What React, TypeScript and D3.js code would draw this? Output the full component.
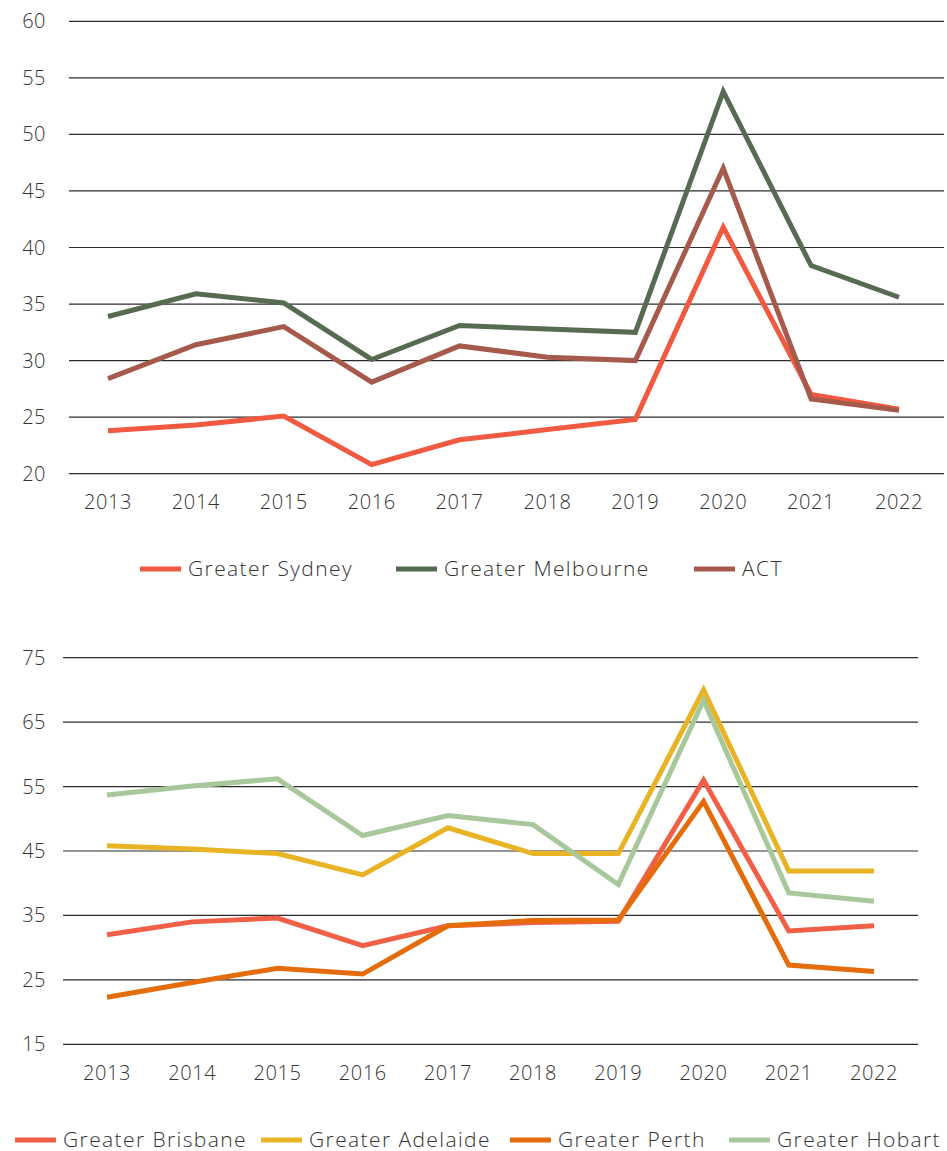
import React from "react";
import * as d3 from "d3";

// years on the x axis (shared by both charts)
const years = ["2013", "2014", "2015", "2016", "2017", "2018", "2019", "2020", "2021", "2022"];

// top chart
const sydney = [23.8, 24.3, 25.1, 20.8, 23.0, 23.9, 24.8, 41.8, 27.0, 25.7];
const melbourne = [33.9, 35.9, 35.1, 30.1, 33.1, 32.8, 32.5, 53.8, 38.4, 35.6];
const act = [28.4, 31.4, 33.0, 28.1, 31.3, 30.3, 30.0, 47.0, 26.6, 25.6];
const topTicks = [20, 25, 30, 35, 40, 45, 50, 55, 60];

// bottom chart
const brisbane = [32.0, 34.0, 34.6, 30.3, 33.4, 33.9, 34.1, 56.0, 32.6, 33.4];
const adelaide = [45.8, 45.3, 44.6, 41.3, 48.6, 44.6, 44.6, 70.0, 41.9, 41.9];
const perth = [22.3, 24.6, 26.8, 25.9, 33.4, 34.2, 34.3, 52.7, 27.3, 26.3];
const hobart = [53.7, 55.1, 56.2, 47.4, 50.5, 49.1, 39.8, 68.4, 38.5, 37.2];
const bottomTicks = [15, 25, 35, 45, 55, 65, 75];

const topSeries = [
  { name: "Greater Sydney", values: sydney, color: "#f15a40" },
  { name: "Greater Melbourne", values: melbourne, color: "#566b52" },
  { name: "ACT", values: act, color: "#a65a4c" },
];

const bottomSeries = [
  { name: "Greater Brisbane", values: brisbane, color: "#f15f47" },
  { name: "Greater Adelaide", values: adelaide, color: "#e8b425" },
  { name: "Greater Perth", values: perth, color: "#e46c0a" },
  { name: "Greater Hobart", values: hobart, color: "#a8c89c" },
];

const FONT = "'Open Sans', Lato, sans-serif";
const TEXT = "#333";

type Series = { name: string; values: number[]; color: string };

function LineChart(props: {
  series: Series[];
  ticks: number[];
  gridLeft: number;
  gridRight: number;
  xFirst: number;
  xLast: number;
  yTop: number;
  yBottom: number;
  labelY: number;
}) {
  const { series, ticks, gridLeft, gridRight, xFirst, xLast, yTop, yBottom, labelY } = props;
  const x = d3.scalePoint<string>().domain(years).range([xFirst, xLast]);
  const y = d3
    .scaleLinear()
    .domain([ticks[0], ticks[ticks.length - 1]])
    .range([yBottom, yTop]);
  const line = d3
    .line<number>()
    .x((d, i) => x(years[i]) as number)
    .y((d) => y(d));

  return (
    <g>
      {ticks.map((t) => (
        <g key={t}>
          <line x1={gridLeft} x2={gridRight} y1={y(t)} y2={y(t)} stroke="#2b2b2b" strokeWidth={1.2} />
          <text
            x={46}
            y={y(t)}
            dy="0.35em"
            textAnchor="end"
            fontSize={20}
            fontWeight={300}
            letterSpacing={0.5}
            fill={TEXT}
            fontFamily={FONT}
          >
            {t}
          </text>
        </g>
      ))}
      {years.map((yr) => (
        <text
          key={yr}
          x={x(yr)}
          y={labelY}
          dy="0.35em"
          textAnchor="middle"
          fontSize={20}
          fontWeight={300}
          letterSpacing={0.6}
          fill={TEXT}
          fontFamily={FONT}
        >
          {yr}
        </text>
      ))}
      {series.map((s) => (
        <path
          key={s.name}
          d={line(s.values) || ""}
          fill="none"
          stroke={s.color}
          strokeWidth={5}
          strokeLinejoin="miter"
        />
      ))}
    </g>
  );
}

function Legend(props: { series: Series[]; starts: number[]; y: number }) {
  const { series, starts, y } = props;
  return (
    <g>
      {series.map((s, i) => (
        <g key={s.name}>
          <line x1={starts[i]} x2={starts[i] + 41} y1={y} y2={y} stroke={s.color} strokeWidth={5} />
          <text
            x={starts[i] + 48}
            y={y}
            dy="0.35em"
            fontSize={21}
            fontWeight={300}
            letterSpacing={1.4}
            fill={TEXT}
            fontFamily={FONT}
          >
            {s.name}
          </text>
        </g>
      ))}
    </g>
  );
}

export default function App() {
  return (
    <svg
      width={947}
      height={1151}
      style={{ position: "absolute", left: 0, top: 0, background: "#fff" }}
    >
      <LineChart
        series={topSeries}
        ticks={topTicks}
        gridLeft={69}
        gridRight={944}
        xFirst={108}
        xLast={899}
        yTop={21.3}
        yBottom={473.7}
        labelY={502}
      />
      <Legend series={topSeries} starts={[140, 396, 694]} y={569} />
      <LineChart
        series={bottomSeries}
        ticks={bottomTicks}
        gridLeft={63}
        gridRight={918}
        xFirst={107}
        xLast={874}
        yTop={657.7}
        yBottom={1044.3}
        labelY={1073}
      />
      <Legend series={bottomSeries} starts={[15, 261, 510, 729]} y={1140} />
    </svg>
  );
}
